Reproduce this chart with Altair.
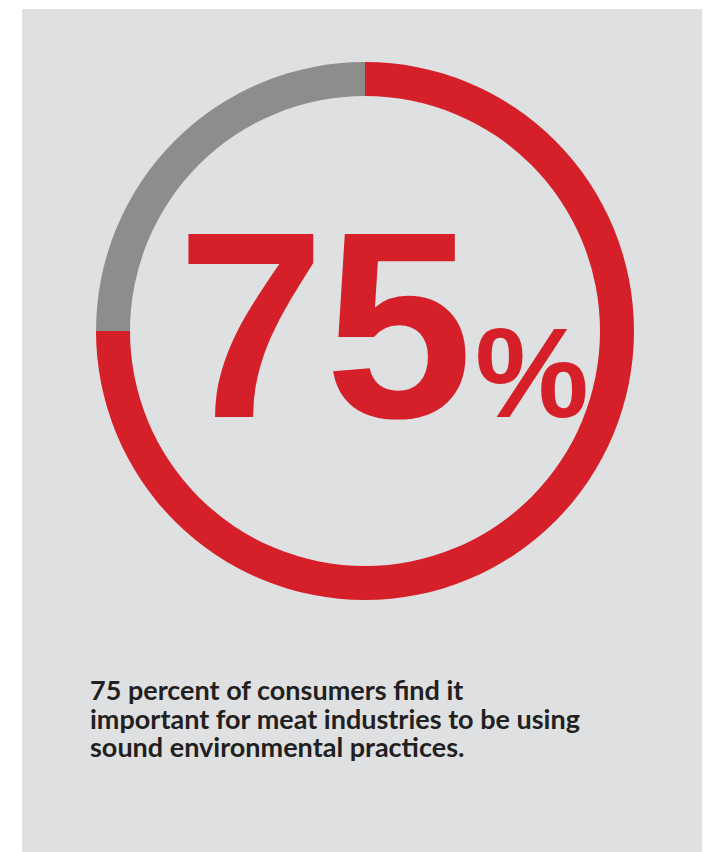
import altair as alt
import pandas as pd

# Data
categories = ["Important", "Not important"]
shares = [75, 25]
colors = ["#D52029", "#8C8D8C"]
caption_lines = [
    "75 percent of consumers find it",
    "important for meat industries to be using",
    "sound environmental practices.",
]

df = pd.DataFrame({"category": categories, "share": shares, "order": [0, 1]})

W, H = 680, 843
CX, CY = 343, 322

donut = alt.Chart(df).mark_arc(outerRadius=269, innerRadius=235, stroke=None).encode(
    theta=alt.Theta("share:Q", stack=True),
    order=alt.Order("order:Q"),
    color=alt.Color("category:N", scale=alt.Scale(domain=categories, range=colors), legend=None),
    x=alt.value(CX),
    y=alt.value(CY),
)

big = pd.DataFrame({"label": [str(shares[0])]})
num = alt.Chart(big).mark_text(
    font="Liberation Sans", fontWeight="bold", fontSize=266, color="#D52029",
    align="left", baseline="alphabetic",
).encode(text="label:N", x=alt.value(155), y=alt.value(408))

pct = alt.Chart(pd.DataFrame({"label": ["%"]})).mark_text(
    font="Liberation Sans", fontWeight="bold", fontSize=128, color="#D52029",
    align="left", baseline="alphabetic",
).encode(text="label:N", x=alt.value(453), y=alt.value(408))

cap_df = pd.DataFrame({"line": caption_lines, "idx": [0, 1, 2]})
cap = alt.Chart(cap_df).mark_text(
    font="Lato", fontWeight="bold", fontSize=27, color="#231F20",
    align="left", baseline="alphabetic",
).encode(
    text="line:N",
    x=alt.value(68),
    y=alt.Y("idx:Q", scale=alt.Scale(domain=[0, 2], range=[691, 748]), axis=None),
)

chart = alt.layer(donut, num, pct, cap).properties(
    width=W, height=H,
    padding={"left": 14, "top": 1, "right": 0, "bottom": 0},
    background="#FFFFFF",
).configure_view(fill="#DFE0E1", stroke=None)

chart.save("out.html", embed_options={"renderer": "svg", "actions": False})
